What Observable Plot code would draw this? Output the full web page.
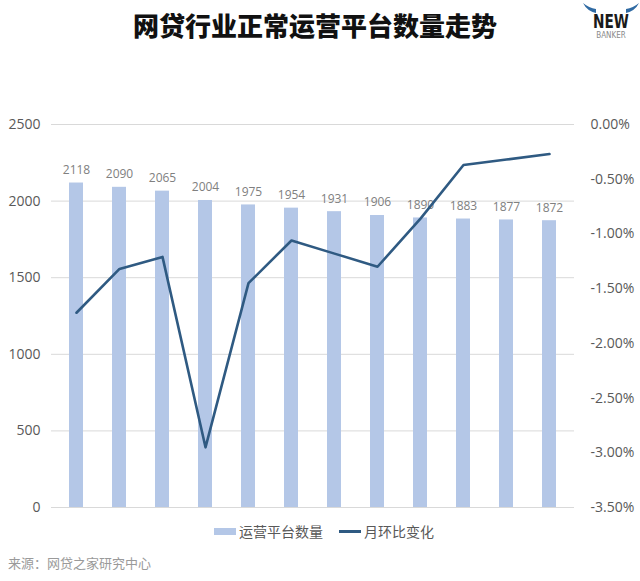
<!DOCTYPE html>
<html>
<head>
<meta charset="utf-8">
<script src="https://cdn.jsdelivr.net/npm/d3@7"></script>
<script src="https://cdn.jsdelivr.net/npm/@observablehq/plot@0.6"></script>
<style>
  body { margin: 0; background: #fff; }
  #wrap { position: relative; width: 640px; height: 581px; font-family: "Open Sans", "Noto Sans CJK SC", sans-serif; }
  #title { position: absolute; left: 0; top: 6px; width: 630px; text-align: center; font-family: "Noto Sans CJK SC", sans-serif; font-weight: 900; font-size: 26px; color: #111; }
  #logo { position: absolute; left: 580px; top: 0; }
  #chart { position: absolute; left: 0; top: 60px; }
  #legend { position: absolute; left: 4px; top: 521px; width: 640px; display: flex; justify-content: center; align-items: center; font-family: "Noto Sans CJK SC", sans-serif; font-size: 14px; color: #595959; }
  #legend .item { display: flex; align-items: center; margin: 0 8px; }
  #legend .sw { display: inline-block; width: 22px; margin-right: 3px; }
  #source { position: absolute; left: 8px; top: 553px; font-family: "Noto Sans CJK SC", sans-serif; font-size: 13px; color: #9a9a9a; }
</style>
</head>
<body>
<div id="wrap">
  <div id="title">网贷行业正常运营平台数量走势</div>
  <svg id="logo" width="60" height="48" viewBox="0 0 60 48">
    <path d="M3 3 Q7 11 16 13 L16 9 Q9 8 3 3 Z" fill="#2f6aa3"/>
    <path d="M59 3 Q55 11 46 13 L46 9 Q53 8 59 3 Z" fill="#2f6aa3"/>
    <text x="31" y="28" text-anchor="middle" font-family="'Liberation Sans Narrow','DejaVu Sans Condensed',sans-serif" font-weight="bold" font-size="19" fill="#1a1a1a" transform="translate(31 0) scale(0.8 1) translate(-31 0)">NEW</text>
    <text x="31" y="38" text-anchor="middle" font-family="'DejaVu Sans Condensed',sans-serif" font-size="8" fill="#8a8a8a">BANKER</text>
  </svg>
  <div id="chart"></div>
  <div id="legend">
    <span class="item"><span class="sw" style="height:7px;background:#b4c7e7"></span>运营平台数量</span>
    <span class="item"><span class="sw" style="height:3px;background:#2f5a82"></span>月环比变化</span>
  </div>
  <div id="source">来源：网贷之家研究中心</div>
</div>
<script>
// categories (months, x axis not shown in the source chart)
const months = ["1月","2月","3月","4月","5月","6月","7月","8月","9月","10月","11月","12月"];
// series 1: number of operating platforms (left axis)
const platformCounts = [2118, 2090, 2065, 2004, 1975, 1954, 1931, 1906, 1890, 1883, 1877, 1872];
// series 2: month-on-month change in percent (right axis)
const momChange = [-1.72, -1.32, -1.21, -2.95, -1.45, -1.06, -1.18, -1.30, -0.86, -0.37, -0.32, -0.27];
// axis ticks
const leftTicks = [0, 500, 1000, 1500, 2000, 2500];
const rightTicks = [0, -0.5, -1.0, -1.5, -2.0, -2.5, -3.0, -3.5];

const leftMax = 2500, rightMin = -3.5, rightMax = 0;
const toLeft = p => (p - rightMin) / (rightMax - rightMin) * leftMax;
const fromLeft = v => rightMin + v / leftMax * (rightMax - rightMin);
const fmtPct = v => { let p = Math.round(fromLeft(v) * 100) / 100; if (Math.abs(p) < 1e-9) p = 0; return p.toFixed(2) + "%"; };

const rows = months.map((m, i) => ({month: m, count: platformCounts[i], pct: momChange[i]}));

const chart = Plot.plot({
  width: 640,
  height: 460,
  marginLeft: 51,
  marginRight: 66,
  marginTop: 64,
  marginBottom: 13,
  style: {fontFamily: "'Open Sans', sans-serif", color: "#595959", background: "transparent"},
  x: {domain: months, paddingInner: 0.68, paddingOuter: 0.34, axis: null},
  y: {domain: [0, leftMax], axis: null},
  marks: [
    Plot.ruleY(leftTicks, {stroke: "#d9d9d9", strokeWidth: 1}),
    Plot.barY(rows, {x: "month", y: "count", fill: "#b4c7e7"}),
    Plot.text(rows, {x: "month", y: "count", text: d => String(d.count), dy: -13, fill: "#808080", fontSize: 12}),
    Plot.lineY(rows, {x: "month", y: d => toLeft(d.pct), stroke: "#2f5a82", strokeWidth: 2.6}),
    Plot.axisY(leftTicks, {anchor: "left", tickSize: 0, tickPadding: 11, fontSize: 14, fill: "#595959", tickFormat: d => String(d), label: null}),
    Plot.axisY(rightTicks.map(toLeft), {anchor: "right", tickSize: 0, tickPadding: 16, fontSize: 14, fill: "#595959", tickFormat: fmtPct, label: null})
  ]
});
document.getElementById("chart").appendChild(chart);
</script>
</body>
</html>
